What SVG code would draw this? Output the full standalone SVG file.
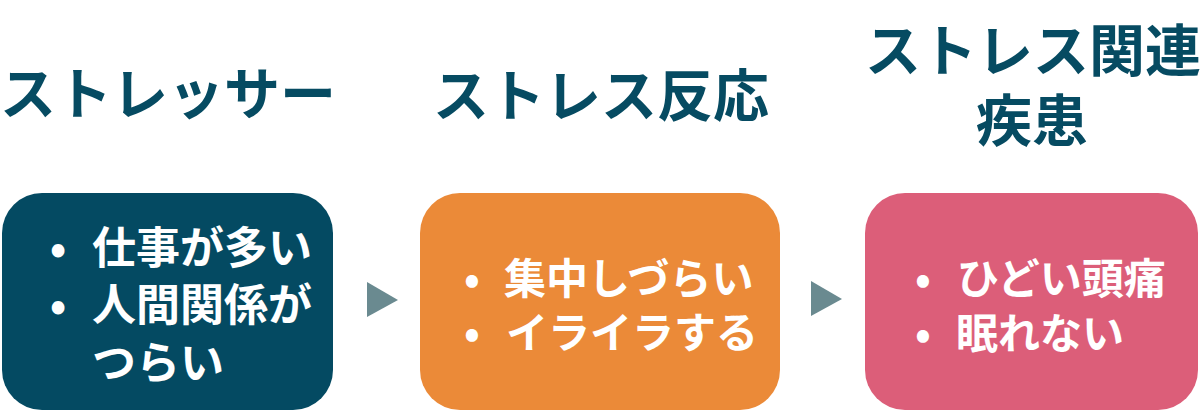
<svg xmlns="http://www.w3.org/2000/svg" width="1200" height="411" viewBox="0 0 1200 411">
  <style>
    .title { font-family: "Noto Sans CJK JP", "Noto Sans", sans-serif; font-weight: 700; font-size: 56px; fill: #064b62; text-anchor: middle; }
    .item { font-family: "Noto Sans CJK JP", "Noto Sans", sans-serif; font-weight: 700; fill: #ffffff; }
    .b { text-anchor: middle; }
    .arrow { fill: #6a8a90; }
  </style>
  <rect width="1200" height="411" fill="#ffffff"/>

  <g id="connectors">
    <polygon class="arrow" points="367,282 398,300 367,317"/>
    <polygon class="arrow" points="811,281 842,299 811,316"/>
  </g>

  <g id="title-stressor">
    <text class="title" x="168" y="114">ストレッサー</text>
  </g>
  <g id="title-reaction">
    <text class="title" x="601" y="116">ストレス反応</text>
  </g>
  <g id="title-disease">
    <text class="title"><tspan x="1033" y="71">ストレス関連</tspan><tspan x="1032" y="141">疾患</tspan></text>
  </g>

  <g id="node-stressor">
    <rect x="2" y="193" width="331" height="217" rx="40" ry="40" fill="#044a62"/>
    <text class="item" font-size="44"><tspan class="b" x="58" y="264">•</tspan><tspan x="92" y="264">仕事が多い</tspan><tspan class="b" x="58" y="321">•</tspan><tspan x="92" y="321">人間関係が</tspan><tspan x="92" y="379">つらい</tspan></text>
  </g>

  <g id="node-reaction">
    <rect x="420" y="193" width="360" height="217" rx="40" ry="40" fill="#eb8a38"/>
    <text class="item" font-size="42"><tspan class="b" x="472" y="294">•</tspan><tspan x="504" y="294">集中しづらい</tspan><tspan class="b" x="472" y="348">•</tspan><tspan x="506" y="348">イライラする</tspan></text>
  </g>

  <g id="node-disease">
    <rect x="865" y="193" width="333" height="217" rx="40" ry="40" fill="#dc5e79"/>
    <text class="item" font-size="42"><tspan class="b" x="923" y="294">•</tspan><tspan x="957" y="294">ひどい頭痛</tspan><tspan class="b" x="923" y="349">•</tspan><tspan x="956" y="349">眠れない</tspan></text>
  </g>
</svg>
